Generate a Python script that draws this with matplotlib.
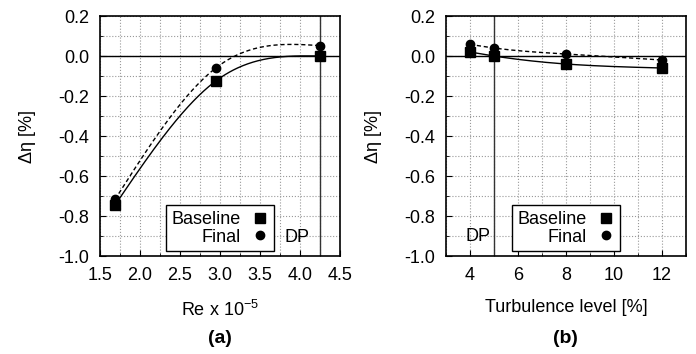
import numpy as np
import matplotlib
matplotlib.use("Agg")
import matplotlib.pyplot as plt
from matplotlib.ticker import MultipleLocator, FormatStrFormatter

plt.rcParams['font.family'] = ['Liberation Sans', 'DejaVu Sans']
plt.rcParams['mathtext.default'] = 'regular'
plt.rcParams['axes.unicode_minus'] = False

# (a) Reynolds number
re_x = [1.6875, 2.954, 4.25]
re_baseline = [-0.745, -0.123, 0.0]
re_final = [-0.717, -0.058, 0.052]
re_dp = 4.25

# (b) turbulence level
tu_x = [4, 5, 8, 12]
tu_baseline = [0.02, 0.0, -0.04, -0.06]
tu_final = [0.058, 0.04, 0.01, -0.02]
tu_dp = 5

FS = 13

def natural_spline(x, y, n=200):
  # gnuplot-like "smooth csplines"
  x = np.asarray(x, float)
  y = np.asarray(y, float)
  h = np.diff(x)
  s = np.diff(y) / h
  m = len(x)
  M = np.zeros(m)
  if m > 2:
    A = np.zeros((m - 2, m - 2))
    b = 6 * (s[1:] - s[:-1])
    for i in range(m - 2):
      A[i, i] = 2 * (h[i] + h[i + 1])
      if i > 0:
        A[i, i - 1] = h[i]
      if i < m - 3:
        A[i, i + 1] = h[i + 1]
    M[1:-1] = np.linalg.solve(A, b)
  xs = np.linspace(x[0], x[-1], n)
  k = np.clip(np.searchsorted(x, xs) - 1, 0, m - 2)
  t1 = x[k + 1] - xs
  t0 = xs - x[k]
  hk = h[k]
  ys = (M[k] * t1**3 + M[k + 1] * t0**3) / (6 * hk) \
    + (y[k] / hk - M[k] * hk / 6) * t1 + (y[k + 1] / hk - M[k + 1] * hk / 6) * t0
  return xs, ys

def style_axes(ax, xminor):
  ax.set_ylim(-1.0, 0.2)
  ax.yaxis.set_major_locator(MultipleLocator(0.2))
  ax.yaxis.set_minor_locator(MultipleLocator(0.1))
  ax.xaxis.set_minor_locator(MultipleLocator(xminor))
  ax.yaxis.set_major_formatter(FormatStrFormatter('%.1f'))
  ax.grid(True, which='both', color='#999999', linestyle=':', linewidth=0.8)
  ax.set_axisbelow(True)
  ax.tick_params(which='both', direction='in', labelsize=FS, pad=8)
  ax.tick_params(which='major', length=4)
  ax.tick_params(which='minor', length=2.5)
  for sp in ax.spines.values():
    sp.set_linewidth(1.2)
  ax.axhline(0, color='black', linewidth=1.0, zorder=2)
  ax.set_ylabel('Δη [%]', fontsize=FS, labelpad=16)

def draw_panel(ax, x, base, final, dp):
  xs, ys = natural_spline(x, base)
  ax.plot(xs, ys, color='black', linewidth=1.0, zorder=3)
  xs, ys = natural_spline(x, final)
  ax.plot(xs, ys, color='black', linewidth=1.0, linestyle=(0, (3, 2)), zorder=3)
  ax.plot(x, base, 's', color='black', markersize=6.5, label='Baseline', zorder=4)
  ax.plot(x, final, 'o', color='black', markersize=6, label='Final', zorder=4)
  ax.axvline(dp, color='#333333', linewidth=1.0, zorder=2)
  leg = ax.legend(loc='lower center', bbox_to_anchor=(0.5, 0.02), borderaxespad=0,
                  markerfirst=False, fancybox=False, framealpha=1, edgecolor='black',
                  fontsize=FS, handlelength=0.9, handletextpad=0.6, labelspacing=0.05,
                  borderpad=0.3)
  leg.get_frame().set_linewidth(1.0)
  leg.set_zorder(5)

fig = plt.figure(figsize=(6.96, 3.54), dpi=100)
ax1 = fig.add_axes([0.1437, 0.2768, 0.3448, 0.678])
ax2 = fig.add_axes([0.6408, 0.2768, 0.3448, 0.678])

# (a)
style_axes(ax1, 0.25)
ax1.set_xlim(1.5, 4.5)
ax1.xaxis.set_major_locator(MultipleLocator(0.5))
ax1.xaxis.set_major_formatter(FormatStrFormatter('%.1f'))
draw_panel(ax1, re_x, re_baseline, re_final, re_dp)
ax1.text(3.81, -0.905, 'DP', fontsize=FS, ha='left', va='center', zorder=6)
ax1.set_xlabel('Re x 10$^{-5}$', fontsize=FS, labelpad=11)

# (b)
style_axes(ax2, 1)
ax2.set_xlim(3, 13)
ax2.xaxis.set_major_locator(MultipleLocator(2))
ax2.xaxis.set_major_formatter(FormatStrFormatter('%d'))
draw_panel(ax2, tu_x, tu_baseline, tu_final, tu_dp)
ax2.text(3.83, -0.9, 'DP', fontsize=FS, ha='left', va='center', zorder=6)
ax2.set_xlabel('Turbulence level [%]', fontsize=FS, labelpad=11)

fig.text(0.316, 0.045, '(a)', fontsize=14, fontweight='bold', ha='center', va='center')
fig.text(0.813, 0.045, '(b)', fontsize=14, fontweight='bold', ha='center', va='center')

fig.savefig('out.png', dpi=100)
